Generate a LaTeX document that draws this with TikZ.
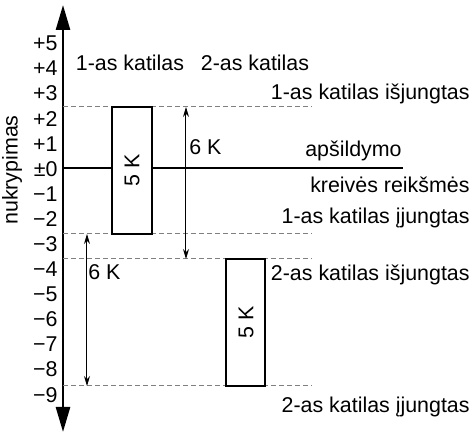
\documentclass[tikz,border=0pt]{standalone}
\usepackage{fontspec}
\setmainfont{Liberation Sans}
\usetikzlibrary{arrows.meta}

\begin{document}
\begin{tikzpicture}[
            x=0.5pt, y=-0.5pt,
            font=\fontsize{10.7}{12}\selectfont,
            axis/.style={line width=1.3pt, -{Triangle[length=12.5pt, width=7pt]}},
            limit/.style={gray, dash pattern=on 2.5pt off 1.5pt, line width=0.5pt},
            boiler/.style={draw, fill=white, line width=1.3pt},
            span/.style={line width=0.5pt, {Stealth[length=5pt, width=3pt]}-{Stealth[length=5pt, width=3pt]}}
        ]
            \useasboundingbox (0,0) rectangle (473,433);

            % axis
            \coordinate (o) at (63,168);
            \draw[axis] (63,168) -- (63,5);
            \draw[axis] (63,168) -- (63,432);
            \foreach \v [count=\i from 0] in {+5,+4,+3,+2,+1,\textpm0,−1,−2,−3,−4,−5,−6,−7,−8,−9}
                \node[anchor=east, inner sep=0pt] (t\i) at (58,{43.3+25.1*\i}) {\v};
            \node[rotate=90, inner sep=0pt] (ylabel) at (12,170) {nukrypimas};

            % limits
            \coordinate (a1) at (63,107);  \coordinate (a2) at (312,107);
            \coordinate (b1) at (63,234);  \coordinate (b2) at (312,234);
            \coordinate (c1) at (63,259);  \coordinate (c2) at (312,259);
            \coordinate (d1) at (63,386);  \coordinate (d2) at (312,386);
            \draw[limit] (a1) -- (a2);
            \draw[limit] (b1) -- (b2);
            \draw[limit] (c1) -- (c2);
            \draw[limit] (d1) -- (d2);

            % heating curve
            \coordinate (z) at (403,168);
            \draw[line width=1.3pt] (o) -- (z);
            \node[anchor=south east, inner sep=1pt] (curve1) at (404,163) {apšildymo};
            \node[anchor=east, inner sep=0pt] (curve2) at (470,185) {kreivės reikšmės};

            % boilers
            \node[anchor=center, inner sep=0pt] (k1) at (130,63) {1-as katilas};
            \node[anchor=center, inner sep=0pt] (k2) at (255,63) {2-as katilas};
            \draw[boiler] (112,107) rectangle (152,234);
            \node[rotate=90] (box1) at (132,170) {5 K};
            \draw[boiler] (226,259) rectangle (265,386);
            \node[rotate=90] (box2) at (246,322) {5 K};

            % switching points
            \node[anchor=east, inner sep=0pt] (on1off) at (470,94) {1-as katilas išjungtas};
            \node[anchor=east, inner sep=0pt] (on1on) at (470,218) {1-as katilas įjungtas};
            \node[anchor=east, inner sep=0pt] (on2off) at (470,275) {2-as katilas išjungtas};
            \node[anchor=east, inner sep=0pt] (on2on) at (470,407) {2-as katilas įjungtas};

            % hysteresis
            \coordinate (s1) at (186,107); \coordinate (s2) at (186,259);
            \draw[span] (s1) -- (s2);
            \node[anchor=west, inner sep=0pt] (h1) at (189,147) {6 K};
            \coordinate (s3) at (87,234); \coordinate (s4) at (87,386);
            \draw[span] (s3) -- (s4);
            \node[anchor=west, inner sep=0pt] (h2) at (88,272) {6 K};
        \end{tikzpicture}
\end{document}
